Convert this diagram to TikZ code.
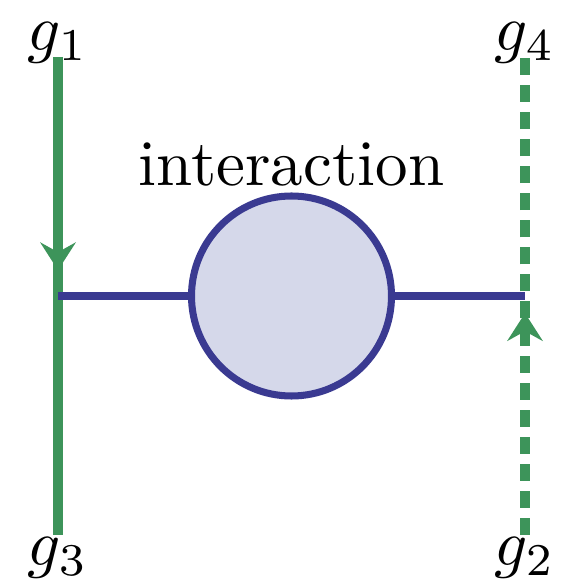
\documentclass[tikz,border=0pt]{standalone}
\usepackage{xcolor}
\usepackage{tikz}
\usetikzlibrary{arrows.meta, positioning, decorations.markings}
\definecolor{gluon}{RGB}{61,148,90}
\definecolor{blobline}{RGB}{58,58,145}
\definecolor{blobfill}{RGB}{213,216,234}
\tikzstyle{gline} = [gluon, line width=6pt]
\tikzstyle{bline} = [blobline, line width=4pt]

\begin{document}
\begin{tikzpicture}[
    label/.style={inner sep=0pt, anchor=base, scale=3.7, transform shape},
    blob/.style={circle, draw=blobline, fill=blobfill, line width=4pt, minimum size=4cm, inner sep=0pt},
    dline/.style={gline, dash pattern=on 9.7pt off 5.7pt},
    arrowat/.style={postaction={decorate}, decoration={markings,
        mark=at position #1 with {\arrow{Stealth[length=0.56cm, width=0.72cm, inset=0.2cm, line width=0pt]}}}}
]
    \useasboundingbox (0,0) rectangle (11.24,11.72);

    % vertex points and line ends
    \coordinate (v1) at (1.16,5.8);
    \coordinate (v2) at (10.5,5.8);
    \coordinate (e1) at (1.16,10.58);
    \coordinate (e3) at (1.16,1.02);
    \coordinate (e4) at (10.5,10.58);
    \coordinate (e2) at (10.5,1.02);

    \node[label] (g1) at (1.16,10.7) {$g_1$};
    \node[label] (g4) at (10.5,10.7) {$g_4$};
    \node[label] (g3) at (1.16,0.4) {$g_3$};
    \node[label] (g2) at (10.5,0.4) {$g_2$};

    \node[blob] (int) at (5.83,5.8) {};
    \node[label] (txt) at (5.83,8.0) {interaction};

    \draw[gline, arrowat=0.446] (e1) -- (v1) -- (e3);
    \draw[dline, arrowat=0.464] (e2) -- (v2) -- (e4);

    \draw[bline] (v1) -- (int);
    \draw[bline] (int) -- (v2);
\end{tikzpicture}
\end{document}
